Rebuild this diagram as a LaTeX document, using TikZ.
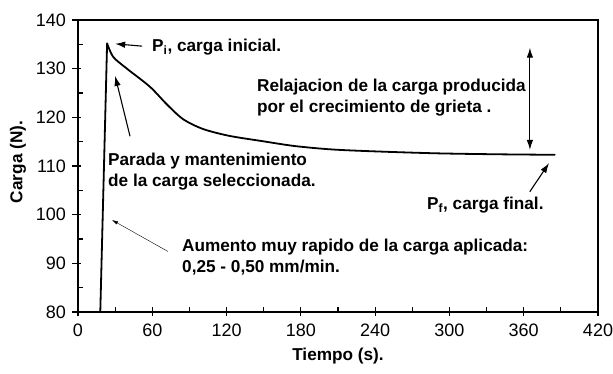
\documentclass[tikz,border=0pt]{standalone}
\usepackage{fontspec}
\setmainfont{Liberation Sans}
\usetikzlibrary{arrows.meta}

\tikzset{
	note/.style={font=\bfseries\fontsize{17.2}{21}\selectfont, anchor=west, align=left, inner sep=0pt},
	ticklab/.style={font=\fontsize{18}{18}\selectfont, inner sep=0pt},
	pointer/.style={-{Latex[length=10pt,width=6.5pt]}, line width=1.1pt},
	thinpointer/.style={-{Latex[length=6pt,width=3.5pt]}, line width=0.4pt},
	curve/.style={line width=1.8pt, line join=round, line cap=round},
}

\begin{document}
\begin{tikzpicture}[x=1pt,y=1pt]
		%%%%% START %%%%%
		\useasboundingbox (0,0) rectangle (613,374);
		
		\begin{scope}[shift={(78,-327.33)}, x=1.2381pt, y=4.8667pt]
		\draw[line width=1.3pt] (0,80) rectangle (420,140);
		
		% ticks
		\foreach \t in {0,60,...,420} {
			\draw[line width=1.2pt] (\t,80) ++(0pt,-4pt) -- ++(0pt,9pt);
			\node[ticklab, anchor=north] at ([yshift=-12pt]\t,80) {\t};
		}
		\foreach \t in {30,90,...,390}
			\draw[line width=1.2pt] (\t,80) -- ++(0pt,5pt);
		\foreach \y in {80,90,...,140} {
			\draw[line width=1.2pt] (0,\y) ++(-6pt,0pt) -- ++(9pt,0pt);
			\node[ticklab, anchor=east] at ([xshift=-12pt]0,\y) {\y};
		}
		\foreach \y in {85,95,...,135}
			\draw[line width=1.2pt] (0,\y) -- ++(5pt,0pt);
		
		% load curve
		\draw[curve] (18,80) -- (23.5,135.2) -- plot[smooth, tension=0.5] coordinates {
			(23.5,135.2) (28.5,132.4) (39.5,130) (58,126.3) (72,122.6) (85,119.6) (101,117.6)
			(122,116.2) (149,115.1) (175,114.1) (205,113.4) (240,113) (290,112.6)
			(340,112.4) (385,112.3)};
		
		\coordinate (pitip) at (30,135.1);
		\coordinate (holdtip) at (30,128.5);
		\coordinate (risetip) at (27.5,98.9);
		\coordinate (pftip) at (380.5,110.6);
		\coordinate (dtop) at (365,134.3);
		\coordinate (dbot) at (365,113.3);
		\end{scope}
		
		% labels
		\node[note, rotate=90, anchor=center] (ylab) at (18,212) {Carga (N).};
		\node[note, anchor=center] (xlab) at (338,18) {Tiempo (s).};
		
		\node[note] (pinit) at (152,327) {P\textsubscript{i}, carga inicial.};
		\node[note] (relax) at (257,276.5) {Relajacion de la carga producida\\por el crecimiento de grieta .};
		\node[note] (hold) at (108,202) {Parada y mantenimiento\\de la carga seleccionada.};
		\node[note] (pfinal) at (427,169) {P\textsubscript{f}, carga final.};
		\node[note] (rise) at (182,116.5) {Aumento muy rapido de la carga aplicada:\\0,25 - 0,50 mm/min.};
		
		% arrows
		\draw[pointer, shorten <=10pt] (pinit.west) -- (pitip);
		\draw[pointer] ([shift={(22pt,17pt)}]hold.north west) -- (holdtip);
		\draw[thinpointer] ([shift={(-14pt,6pt)}]rise.west) -- (risetip);
		\draw[pointer] ([shift={(-14pt,5pt)}]pfinal.north east) -- (pftip);
		\draw[{Latex[length=10pt,width=6.5pt]}-{Latex[length=10pt,width=6.5pt]}, line width=1.1pt] (dtop) -- (dbot);
		
		%%%%% END %%%%%
\end{tikzpicture}
\end{document}
